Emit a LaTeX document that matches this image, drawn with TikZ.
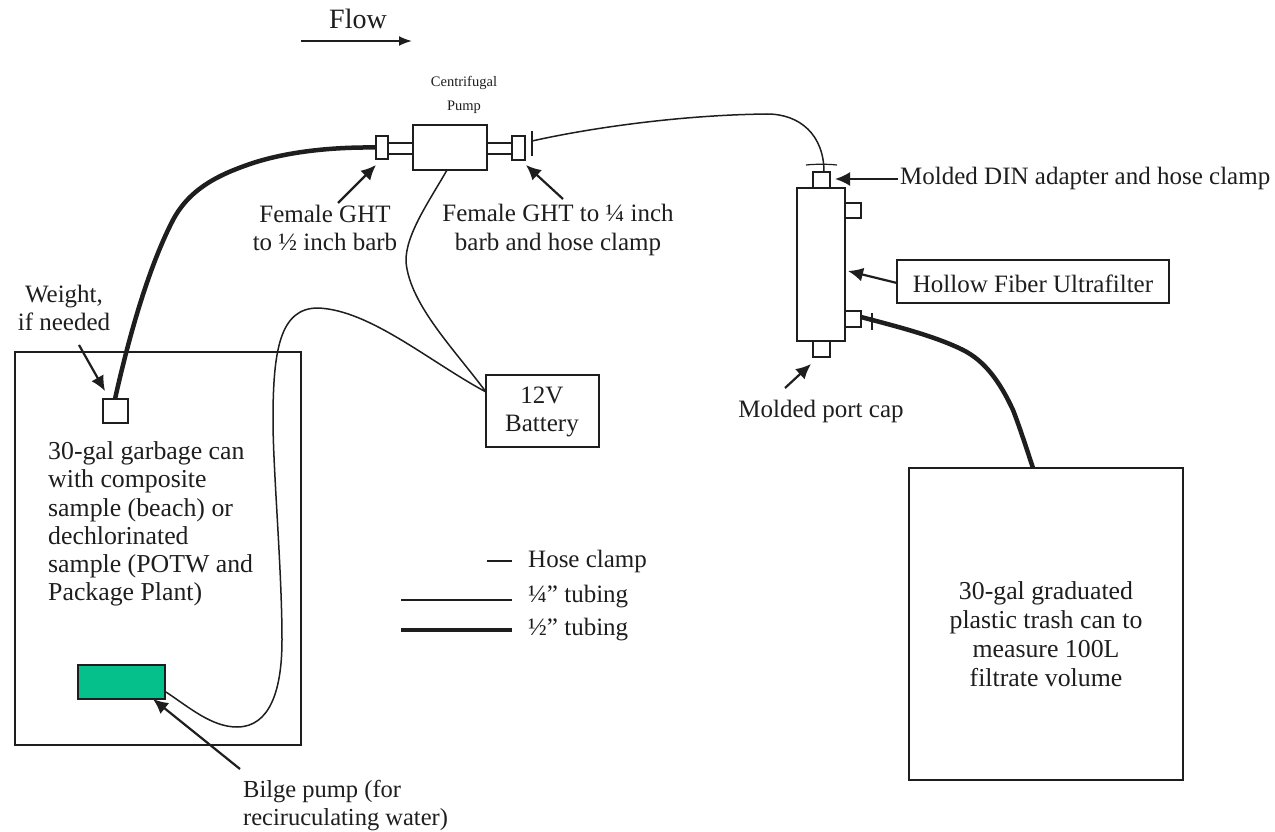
\documentclass[tikz,border=0pt]{standalone}
\usepackage{fontspec}
\setmainfont{Liberation Serif}
\usetikzlibrary{arrows.meta}
\definecolor{ink}{HTML}{1E1E1E}
\definecolor{pumpgreen}{HTML}{05C08A}
\tikzset{
  box/.style={draw=ink,line width=1.5pt,fill=white,inner sep=0pt,outer sep=0pt},
  lab/.style={text=ink,font=\fontsize{25}{28.5}\selectfont,align=center,inner sep=0pt},
  labl/.style={lab,align=left,anchor=west},
  thin tube/.style={draw=ink,line width=1.5pt},
  thick tube/.style={draw=ink,line width=4.5pt},
  clamp/.style={draw=ink,line width=1.2pt},
  pointer/.style={draw=ink,line width=2.2pt,-{Latex[length=15pt,width=14pt]}}
}
\begin{document}
\begin{tikzpicture}[x=1pt,y=-1pt]
\useasboundingbox (0,0) rectangle (1275,832);
\fill[white] (0,0) rectangle (1275,832);
% boxes
\node[box,anchor=north west,minimum width=286pt,minimum height=393pt] (can) at (15,352) {};
\node[box,anchor=north west,minimum width=25pt,minimum height=24pt] (weight) at (103,399) {};
\node[box,anchor=north west,minimum width=87pt,minimum height=34pt,fill=pumpgreen] (bilge) at (78,665) {};
\node[box,anchor=north west,minimum width=113pt,minimum height=72pt] (battery) at (486,375) {};
\node[box,anchor=north west,minimum width=274pt,minimum height=312pt] (bigcan) at (909,468) {};
\node[box,anchor=north west,minimum width=74pt,minimum height=45pt] (pump) at (413,125) {};
\node[box,anchor=north west,minimum width=25pt,minimum height=11pt] (stubL) at (388,143) {};
\node[box,anchor=north west,minimum width=25pt,minimum height=11pt] (stubR) at (487,143) {};
\node[box,anchor=north west,minimum width=12pt,minimum height=23pt] (gL) at (376,136) {};
\node[box,anchor=north west,minimum width=13pt,minimum height=24pt] (gR) at (512,136) {};
\node[box,anchor=north west,minimum width=48pt,minimum height=153pt] (filter) at (797,188) {};
\node[box,anchor=north west,minimum width=17pt,minimum height=16pt] (din) at (813,172) {};
\node[box,anchor=north west,minimum width=17pt,minimum height=16pt] (cap) at (813,341) {};
\node[box,anchor=north west,minimum width=16pt,minimum height=15pt] (side1) at (845,203) {};
\node[box,anchor=north west,minimum width=16pt,minimum height=16pt] (side2) at (845,311) {};
\node[box,anchor=north west,minimum width=272pt,minimum height=43pt] (hollow) at (897,260) {};
% clamps
\coordinate (cR1) at (532,131); \coordinate (cR2) at (532,156);
\coordinate (cT1) at (806,165); \coordinate (cT2) at (837,165);
\coordinate (cB1) at (872,313); \coordinate (cB2) at (872,330);
\draw[clamp] (cR1) -- (cR2);
\draw[clamp] (cT1) .. controls (815,164) and (828,164) .. (cT2);
\draw[clamp] (cB1) -- (cB2);
% tubes
\coordinate (wTop) at (115,399);
\coordinate (s2r) at (861,317);
\coordinate (bigTop) at (1033,468);
\coordinate (gRr) at (532,141);
\coordinate (dinTop) at (824,172);
\coordinate (bilgeR) at (166,692);
\coordinate (batL) at (486,392);
\coordinate (pumpB) at (447,170);
\draw[thick tube] (wTop) .. controls (127,345) and (147,270) .. (173,220) .. controls (190,188) and (220,174) .. (253,163) .. controls (290,151) and (335,147) .. (gL.west);
\draw[thin tube] (gRr) .. controls (590,128) and (680,115) .. (767,114) .. controls (800,114) and (824,135) .. (dinTop);
\draw[thick tube] (s2r) .. controls (895,326) and (935,336) .. (963,350) .. controls (985,361) and (1000,382) .. (1013,410) .. controls (1020,428) and (1027,450) .. (bigTop);
\draw[thin tube] (bilgeR) .. controls (190,708) and (212,727) .. (237,727) .. controls (270,727) and (282,690) .. (282,640) .. controls (282,570) and (273,470) .. (273,420) .. controls (273,350) and (280,308) .. (318,308) .. controls (370,310) and (430,362) .. (batL);
\draw[thin tube] (pumpB) .. controls (430,200) and (405,235) .. (406,262) .. controls (410,305) and (455,350) .. (batL);
% pointers
\coordinate (wA) at (79,345); \coordinate (wB) at (105,391);
\draw[pointer] (wA) -- (wB);
\coordinate (fL) at (338,203); \coordinate (fLb) at (376,165);
\draw[pointer] (fL) -- (fLb);
\coordinate (fR) at (563,199); \coordinate (fRb) at (526,165);
\draw[pointer] (fR) -- (fRb);
\coordinate (dA) at (898,179); \coordinate (dB) at (835,179);
\draw[pointer] (dA) -- (dB);
\coordinate (hA) at (897,283); \coordinate (hB) at (848,271);
\draw[pointer] (hA) -- (hB);
\coordinate (mA) at (785,388); \coordinate (mB) at (811,364);
\draw[pointer] (mA) -- (mB);
\coordinate (bA) at (240,769); \coordinate (bB) at (153,699);
\draw[pointer] (bA) -- (bB);
% flow
\coordinate (flowA) at (301,41); \coordinate (flowB) at (412,41);
\draw[draw=ink,line width=2pt,-{Latex[length=13pt,width=10pt]}] (flowA) -- (flowB);
% legend
\coordinate (l1a) at (487,561); \coordinate (l1b) at (512,561);
\coordinate (l2a) at (401,600); \coordinate (l2b) at (512,600);
\coordinate (l3a) at (401,630); \coordinate (l3b) at (512,630);
\draw[thin tube] (l1a) -- (l1b);
\draw[thin tube] (l2a) -- (l2b);
\draw[thick tube] (l3a) -- (l3b);
% labels
\node[lab,font=\fontsize{28}{32}\selectfont] (tflow) at (358,19) {Flow};
\node[lab,font=\fontsize{14.5}{24}\selectfont] (tcp) at (464,95) {Centrifugal\\Pump};
\node[lab] (tfl) at (325,228) {Female GHT\\to ½ inch barb};
\node[lab] (tfr) at (558,230) {Female GHT to ¼ inch\\barb and hose clamp};
\node[labl] (tdin) at (900,178) {Molded DIN adapter and hose clamp};
\node[lab] (thf) at (1033,284) {Hollow Fiber Ultrafilter};
\node[lab] (tmp) at (821,411) {Molded port cap};
\node[lab] (tw) at (64,308) {Weight,\\if needed};
\node[lab] (t12) at (542,412) {12V\\Battery};
\node[labl,font=\fontsize{25.8}{28.2}\selectfont] (tcan) at (48,524) {30-gal garbage can\\with composite\\sample (beach) or\\dechlorinated\\sample (POTW and\\Package Plant)};
\node[labl] (th1) at (528,561) {Hose clamp};
\node[labl] (th2) at (528,597) {¼” tubing};
\node[labl] (th3) at (528,630) {½” tubing};
\node[lab,font=\fontsize{25.8}{29}\selectfont] (tbig) at (1046,634) {30-gal graduated\\plastic trash can to\\measure 100L\\ filtrate volume};
\node[labl,font=\fontsize{24.5}{28}\selectfont] (tbp) at (243,806) {Bilge pump (for\\reciruculating water)};
\end{tikzpicture}
\end{document}
